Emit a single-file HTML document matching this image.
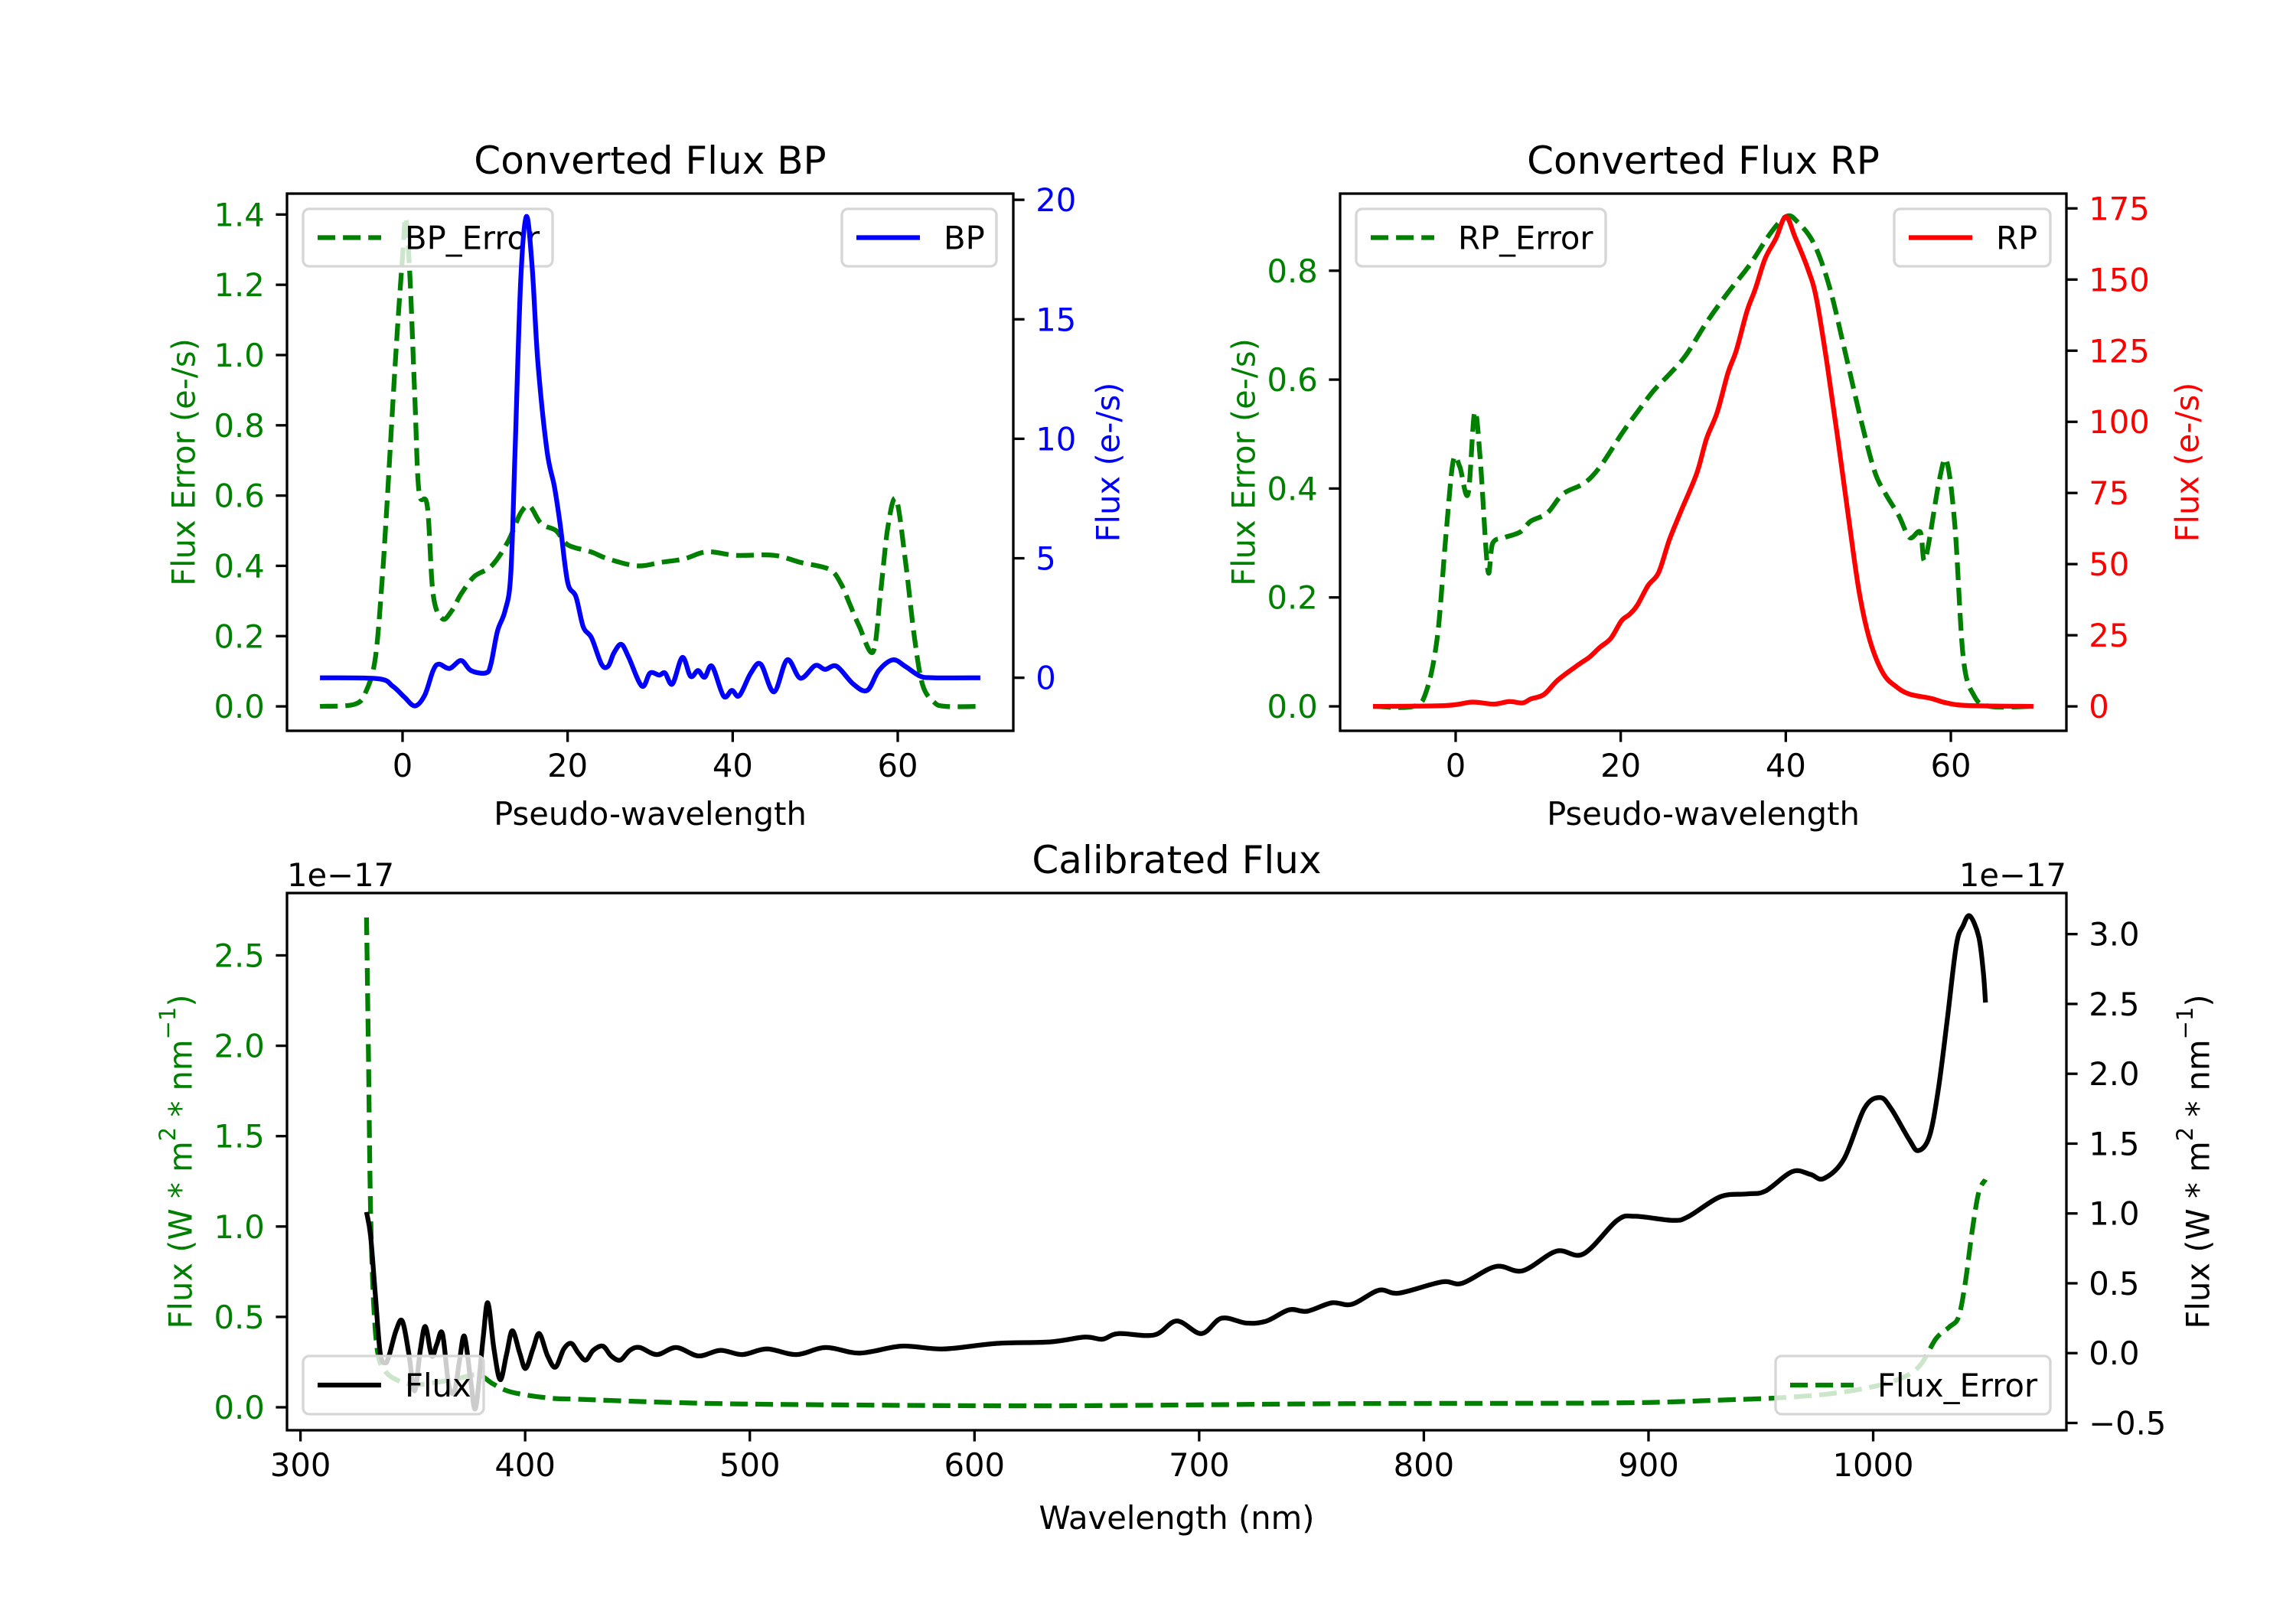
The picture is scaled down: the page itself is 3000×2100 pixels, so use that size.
<!DOCTYPE html>
<html><head><meta charset="utf-8"><style>
html,body{margin:0;padding:0;background:#fff}
svg{display:block;font-family:"DejaVu Sans","Liberation Sans",sans-serif}
</style></head><body>
<svg id="chart" width="3000" height="2100" viewBox="0 0 3000 2100" xmlns="http://www.w3.org/2000/svg"></svg>
<script>
// ---- BP panel data ----
const bpX = [-10,-3,-1.2,0.2,1.5,2.7,3.7,4.4,5.7,7.1,8.3,10.1,10.7,11.5,12.4,13.1,13.6,14.3,15.0,15.7,16.4,17.5,18.4,19.1,20.0,21.0,21.9,22.9,24.1,24.9,25.6,26.5,27.4,29.0,30.0,31.1,31.8,32.7,33.9,34.9,35.8,36.6,37.5,38.9,39.9,40.8,42.2,43.4,45.0,46.6,48.2,50.0,51.2,52.6,54.6,56.3,57.7,59.4,60.9,62.7,64.4,70];
const bpFlux = [0,-0.04,-0.35,-0.8,-1.18,-0.72,0.3,0.57,0.39,0.72,0.3,0.2,0.57,1.95,2.78,4.25,9.1,16.5,19.3,17.2,13.2,9.5,8.0,6.4,4.0,3.4,2.13,1.67,0.57,0.48,1.03,1.4,0.85,-0.35,0.2,0.11,0.2,-0.26,0.85,0.06,0.3,0.02,0.48,-0.77,-0.53,-0.75,0.2,0.57,-0.59,0.75,-0.02,0.51,0.35,0.48,-0.26,-0.53,0.3,0.75,0.48,0.07,0,0];
const bpErrX = [-10,-5.8,-4.4,-3.3,-2.5,-1.9,-0.8,0,0.4,0.9,1.5,2.0,3.0,3.7,4.8,5.9,7.1,8.7,10.8,12.8,14.3,15.4,16.8,18.6,20.0,22.8,24.9,28.4,31.3,34.1,36.9,40.4,45.0,48.2,51.7,53.1,54.2,55.3,57.0,57.9,58.8,59.8,60.9,62.0,63.0,64.4,65.8,70];
const bpErr = [0,0.006,0.044,0.137,0.35,0.57,1.01,1.28,1.39,1.22,0.87,0.61,0.57,0.32,0.25,0.27,0.32,0.37,0.40,0.47,0.55,0.57,0.52,0.50,0.46,0.44,0.42,0.40,0.41,0.42,0.44,0.43,0.43,0.41,0.39,0.35,0.29,0.23,0.155,0.32,0.51,0.59,0.42,0.2,0.062,0.012,0,0];
// ---- RP panel data ----
const rpX = [-10,-1.2,2.0,4.6,6.5,8.1,9.1,10.7,12.4,14.9,16.2,17.5,18.8,20.1,21.1,22.0,23.3,24.6,25.9,27.2,29.2,30.4,31.7,33.0,34.0,35.3,36.3,37.5,38.8,40.0,41.1,42.7,43.7,45.0,46.3,47.6,48.9,50.2,51.8,53.4,55.0,57.6,59.5,62.1,70];
const rpFlux = [0,0.3,1.5,0.8,1.7,1.2,2.6,4.2,9.3,14.7,17.3,20.8,23.9,30.1,32.4,35.5,42.4,47.1,58.6,67.9,81.8,94.1,103.4,117.3,125,138.9,146.6,157.4,164.4,172.1,165.1,153.5,143.5,120.4,94.1,66.4,40.1,23.1,11.6,6.9,4.3,2.8,1.2,0.3,0];
const rpErrX = [-10,-5.1,-3.5,-2.2,-1.2,-0.3,0.5,1.5,2.3,3.0,3.9,4.5,5.9,7.8,9.1,11.1,13.0,15.6,17.5,20.1,22.0,24.0,25.9,27.9,30.4,33.0,35.6,38.2,40.1,41.4,43.4,45.3,47.2,49.2,50.8,52.1,53.7,55.0,56.3,56.9,58.6,59.5,60.5,61.5,62.8,64.7,70];
const rpErr = [0,0,0.03,0.13,0.31,0.45,0.44,0.39,0.54,0.45,0.25,0.30,0.31,0.32,0.34,0.355,0.39,0.41,0.44,0.50,0.54,0.58,0.61,0.645,0.705,0.76,0.81,0.87,0.90,0.89,0.85,0.77,0.65,0.52,0.43,0.39,0.35,0.31,0.32,0.27,0.415,0.45,0.33,0.09,0.02,0,0];
// ---- Calibrated panel data (units 1e-17) ----
const calX = [329.4,331.2,333.3,335.5,337.7,339.4,342.5,345.3,348.2,350.8,353.4,355.6,358.4,360.6,363.2,366.0,368.6,370.8,373.0,375.8,378.0,381.3,383.4,386.1,388.9,391.7,394.3,397.6,400.2,403.5,406.3,410.0,413.5,417.2,420.5,423.7,427.0,430.3,434.6,438.3,442.3,446.6,451.0,458.6,467.3,477.1,486.9,496.7,507.6,520.7,533.8,549.0,567.5,586.1,610.0,633.6,649,657,664,680,690,701,710,721,730,740,748,759,768,780,789,808,817,832,844,859,871,886,894,911,918,932,944,952,964,972,978,987,996,1003,1008,1016,1020,1025,1029,1033,1037,1040,1043,1047,1049,1050];
const calFlux = [1.01,0.84,0.42,0,-0.07,-0.02,0.16,0.23,0,-0.27,0.03,0.19,-0.02,0.06,0.14,-0.23,-0.27,-0.05,0.12,-0.2,-0.39,0.11,0.36,0.03,-0.19,-0.01,0.16,0,-0.11,0.03,0.14,-0.02,-0.1,0.03,0.07,0,-0.05,0.02,0.05,-0.02,-0.05,0.02,0.04,-0.01,0.04,-0.02,0.02,-0.01,0.03,-0.01,0.04,0,0.05,0.03,0.07,0.08,0.115,0.1,0.14,0.13,0.23,0.14,0.25,0.215,0.23,0.31,0.3,0.36,0.35,0.45,0.43,0.51,0.50,0.62,0.59,0.73,0.71,0.95,0.98,0.95,0.98,1.12,1.14,1.16,1.30,1.28,1.25,1.39,1.75,1.83,1.75,1.53,1.45,1.55,1.89,2.39,2.92,3.06,3.13,2.98,2.73,2.51];
const calErrX = [329.4,330.3,331.2,332.5,334.4,337.7,343.1,350.8,361.7,370.4,379.1,385.6,392.2,400.9,411.8,422.7,433.6,455.3,488.0,531.6,633.6,765,886,932,962,987,1008,1020,1028,1034,1038,1041,1044,1047,1050];
const calErr = [2.71,1.9,1.09,0.59,0.30,0.20,0.15,0.125,0.14,0.16,0.18,0.13,0.09,0.067,0.05,0.045,0.04,0.03,0.02,0.014,0.008,0.02,0.024,0.04,0.055,0.085,0.14,0.22,0.38,0.445,0.5,0.69,0.97,1.19,1.26];
// ---- tick labels ----
const pseudoTicks = [0,20,40,60];
const bpErrTicks = ["0.0","0.2","0.4","0.6","0.8","1.0","1.2","1.4"];
const bpFluxTicks = ["0","5","10","15","20"];
const rpErrTicks = ["0.0","0.2","0.4","0.6","0.8"];
const rpFluxTicks = ["0","25","50","75","100","125","150","175"];
const wlTicks = [300,400,500,600,700,800,900,1000];
const calErrTicks = ["0.0","0.5","1.0","1.5","2.0","2.5"];
const calFluxTicks = ["\u22120.5","0.0","0.5","1.0","1.5","2.0","2.5","3.0"];

const NS = "http://www.w3.org/2000/svg";
const svg = document.getElementById('chart');
const FS = 41.7, TL = 14.6, LW = 6.25;
function mk(tag, parent){const e=document.createElementNS(NS,tag);(parent||svg).appendChild(e);return e;}
function scale(d0,d1,p0,p1){return v=>p0+(v-d0)/(d1-d0)*(p1-p0);}
function txt(parent,x,y,s,anchor,color,size){const t=mk('text',parent);t.setAttribute('x',x);t.setAttribute('y',y);t.setAttribute('text-anchor',anchor);t.setAttribute('fill',color);t.setAttribute('font-size',size||FS);t.textContent=s;return t;}
function line(parent,x1,y1,x2,y2,c,w){const l=mk('line',parent);l.setAttribute('x1',x1);l.setAttribute('y1',y1);l.setAttribute('x2',x2);l.setAttribute('y2',y2);l.setAttribute('stroke',c);l.setAttribute('stroke-width',w);return l;}
function series(parent,xs,ys,sx,sy,color,dashed){
 const P=xs.map((x,i)=>[sx(x),sy(ys[i])]);
 let d='M'+P[0][0].toFixed(1)+','+P[0][1].toFixed(1);
 for(let i=0;i<P.length-1;i++){const p0=P[Math.max(0,i-1)],p1=P[i],p2=P[i+1],p3=P[Math.min(P.length-1,i+2)];
  const c1x=p1[0]+(p2[0]-p0[0])/6,c1y=p1[1]+(p2[1]-p0[1])/6,c2x=p2[0]-(p3[0]-p1[0])/6,c2y=p2[1]-(p3[1]-p1[1])/6;
  d+=' C'+c1x.toFixed(1)+','+c1y.toFixed(1)+' '+c2x.toFixed(1)+','+c2y.toFixed(1)+' '+p2[0].toFixed(1)+','+p2[1].toFixed(1);}
 const p=mk('path',parent);p.setAttribute('d',d);p.setAttribute('fill','none');p.setAttribute('stroke',color);p.setAttribute('stroke-width',LW);p.setAttribute('stroke-linejoin','round');if(dashed)p.setAttribute('stroke-dasharray','23.1,10');return p;}
function legend(parent,x,y,w,h,label,color,dashed){const r=mk('rect',parent);r.setAttribute('x',x);r.setAttribute('y',y);r.setAttribute('width',w);r.setAttribute('height',h);r.setAttribute('rx',8);r.setAttribute('fill','#fff');r.setAttribute('fill-opacity','0.8');r.setAttribute('stroke','#d6d6d6');r.setAttribute('stroke-width',3.3);
 const l=line(parent,x+19,y+h/2,x+102,y+h/2,color,LW);if(dashed)l.setAttribute('stroke-dasharray','23.1,10');
 txt(parent,x+133,y+h/2+15,label,'start','#000');}
function frame(parent,L,R,T,B){const r=mk('rect',parent);r.setAttribute('x',L);r.setAttribute('y',T);r.setAttribute('width',R-L);r.setAttribute('height',B-T);r.setAttribute('fill','none');r.setAttribute('stroke','#000');r.setAttribute('stroke-width',3.3);}
function xTicks(parent,sx,B,ticks){ticks.forEach(v=>{const x=sx(v);line(parent,x,B,x,B+TL,'#000',3.3);txt(parent,x,B+TL+14.6+31,String(v),'middle','#000');});}
function yTicks(parent,sy,edge,labels,side,color){labels.forEach(s=>{const v=parseFloat(s.replace('\u2212','-'));const y=sy(v);
 if(side==='left'){line(parent,edge-TL,y,edge,y,'#000',3.3);txt(parent,edge-TL-14.6,y+15,s,'end',color);}
 else{line(parent,edge,y,edge+TL,y,'#000',3.3);txt(parent,edge+TL+14.6,y+15,s,'start',color);}});}
function vlabel(parent,x,y,s,color){const t=txt(parent,x,y,s,'middle',color);t.setAttribute('transform','rotate(-90 '+x+' '+y+')');t.setAttribute('dominant-baseline','central');return t;}

// ===== BP panel =====
(function(){
 const g=mk('g');
 
 
 const L=375,R=1324,T=253,B=955;
 const sx=scale(-14,74,L,R), syL=scale(-0.0695,1.4595,B,T), syR=scale(-2.22,20.26,B,T);
 const e=series(g,bpErrX,bpErr,sx,syL,'#008000',true);
 
 
 const lg1=mk('g',g);
 
 
 legend(lg1,396,273,326,75,'BP_Error','#008000',true);
 const f=series(g,bpX,bpFlux,sx,syR,'#0000ff',false);
 
 
 const lg2=mk('g',g);
 
 
 legend(lg2,1100,273,202,75,'BP','#0000ff',false);
 frame(g,L,R,T,B);
 xTicks(g,sx,B,pseudoTicks);
 yTicks(g,syL,L,bpErrTicks,'left','#008000');
 yTicks(g,syR,R,bpFluxTicks,'right','#0000ff');
 const t=txt(g,(L+R)/2,227,'Converted Flux BP','middle','#000',50);
 
 
 const xl=txt(g,(L+R)/2,1078,'Pseudo-wavelength','middle','#000');
 
 
 const yl=vlabel(g,240,(T+B)/2,'Flux Error (e-/s)','#008000');
 
 
 const yr=vlabel(g,1448,(T+B)/2,'Flux (e-/s)','#0000ff');
 
 
})();

// ===== RP panel =====
(function(){
 const g=mk('g');
 
 
 const L=1751,R=2700,T=253,B=955;
 const sx=scale(-14,74,L,R), syL=scale(-0.0449,0.9416,B,T), syR=scale(-8.58,180.2,B,T);
 const e=series(g,rpErrX,rpErr,sx,syL,'#008000',true);
 
 
 const lg1=mk('g',g);
 
 
 legend(lg1,1772,273,326,75,'RP_Error','#008000',true);
 const f=series(g,rpX,rpFlux,sx,syR,'#ff0000',false);
 
 
 const lg2=mk('g',g);
 
 
 legend(lg2,2475,273,204,75,'RP','#ff0000',false);
 frame(g,L,R,T,B);
 xTicks(g,sx,B,pseudoTicks);
 yTicks(g,syL,L,rpErrTicks,'left','#008000');
 yTicks(g,syR,R,rpFluxTicks,'right','#ff0000');
 const t=txt(g,(L+R)/2,227,'Converted Flux RP','middle','#000',50);
 
 
 const xl=txt(g,(L+R)/2,1078,'Pseudo-wavelength','middle','#000');
 
 
 const yl=vlabel(g,1625,(T+B)/2,'Flux Error (e-/s)','#008000');
 
 
 const yr=vlabel(g,2858,(T+B)/2,'Flux (e-/s)','#ff0000');
 
 
})();

// ===== Calibrated panel =====
(function(){
 const g=mk('g');
 
 
 const L=375,R=2700,T=1167,B=1869;
 const sx=scale(294,1086,L,R), syL=scale(-0.127,2.845,B,T), syR=scale(-0.552,3.294,B,T);
 const e=series(g,calErrX,calErr,sx,syL,'#008000',true);
 
 
 const lg1=mk('g',g);
 
 
 legend(lg1,2320,1772,359,76,'Flux_Error','#008000',true);
 const f=series(g,calX,calFlux,sx,syR,'#000000',false);
 
 
 const lg2=mk('g',g);
 
 
 legend(lg2,396,1772,236,76,'Flux','#000000',false);
 frame(g,L,R,T,B);
 xTicks(g,sx,B,wlTicks);
 yTicks(g,syL,L,calErrTicks,'left','#008000');
 yTicks(g,syR,R,calFluxTicks,'right','#000');
 const o1=txt(g,L,1158,'1e\u221217','start','#000');
 
 
 const o2=txt(g,R,1158,'1e\u221217','end','#000');
 
 
 const t=txt(g,(L+R)/2,1141,'Calibrated Flux','middle','#000',50);
 
 
 const xl=txt(g,(L+R)/2,1998,'Wavelength (nm)','middle','#000');
 
 
 const yl=vlabel(g,236,(T+B)/2,'','#008000');
 yl.innerHTML='Flux (W * m<tspan baseline-shift="super" font-size="29">2</tspan> * nm<tspan baseline-shift="super" font-size="29">\u22121</tspan>)';
 
 
 const yr=vlabel(g,2872,(T+B)/2,'','#000');
 yr.innerHTML='Flux (W * m<tspan baseline-shift="super" font-size="29">2</tspan> * nm<tspan baseline-shift="super" font-size="29">\u22121</tspan>)';
 
 
})();
</script>
</body></html>
